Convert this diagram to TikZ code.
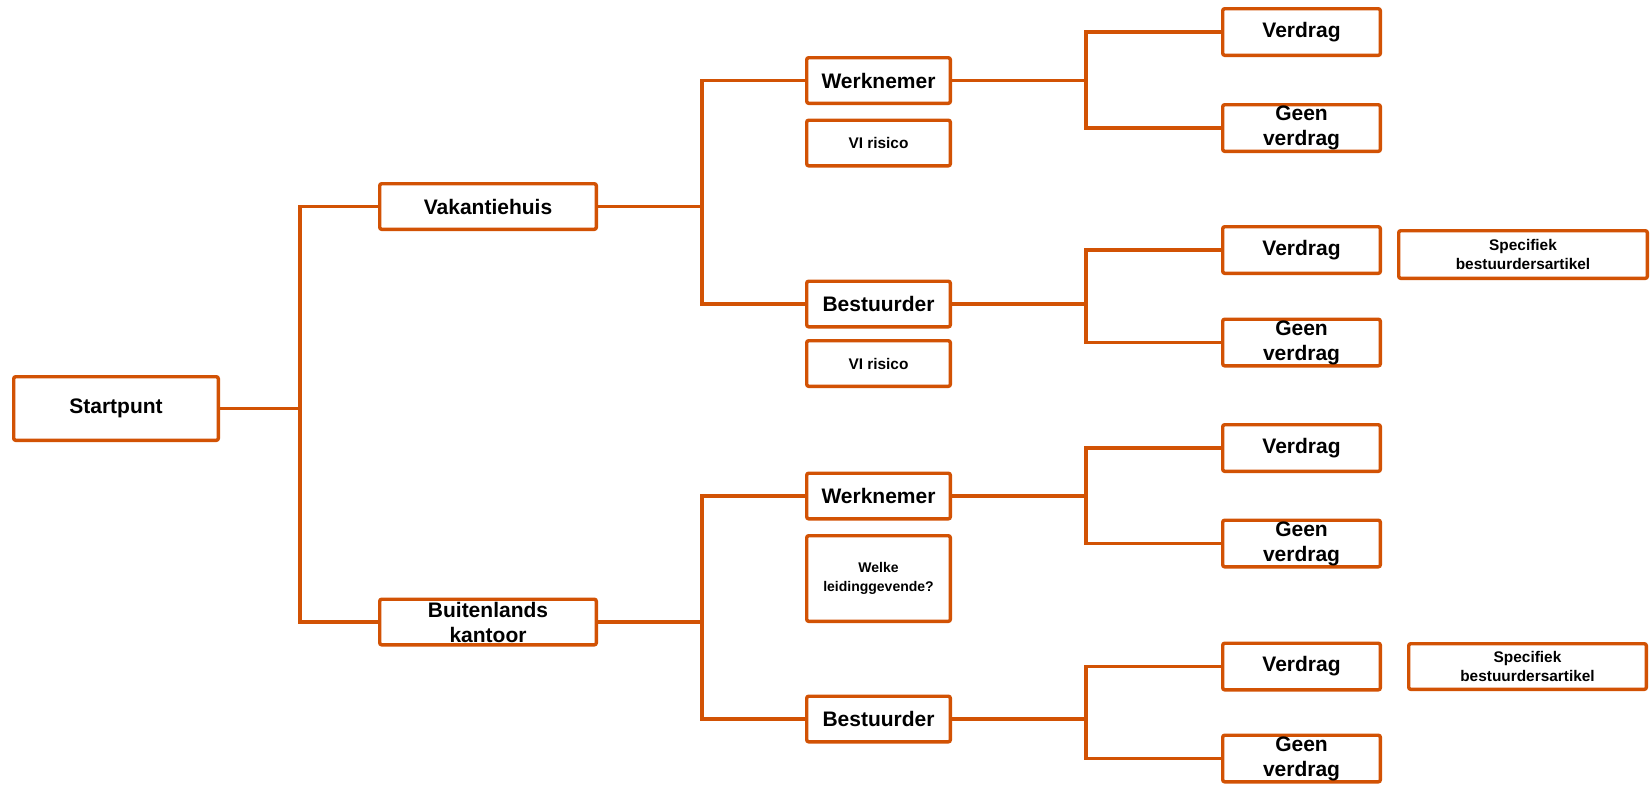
\documentclass[tikz,border=0pt]{standalone}
\usepackage{fontspec}
\setmainfont{Liberation Sans}
\definecolor{treeorange}{RGB}{210, 82, 4}
\usetikzlibrary{positioning, calc}

\begin{document}
\begin{tikzpicture}[
  x=0.5pt, y=-0.5pt,
  treebox/.style={draw=treeorange, line width=1.7pt, fill=white, rounded corners=1pt, inner sep=0pt, align=center, font=\bfseries\fontsize{10.5}{12.5}\selectfont, minimum width=71.8pt, minimum height=22.8pt},
  endbox/.style={treebox, minimum width=78.8pt, minimum height=23.3pt},
  notebox/.style={treebox, font=\bfseries\fontsize{7.7}{9.3}\selectfont},
  link/.style={draw=treeorange, line width=1.6pt}
]
  \useasboundingbox (0,0) rectangle (1652,784);

  % root and first split
  \node[treebox, minimum width=102.3pt, minimum height=31.8pt] (start) at (116,408.5) {Startpunt};
  \node[treebox, minimum width=108.3pt] (vakantie) at (488,206.5) {Vakantiehuis};
  \node[treebox, minimum width=108.3pt] (kantoor) at (488,622) {Buitenlands\\kantoor};

  % roles
  \node[treebox] (wn1) at (878.5,80.5) {Werknemer};
  \node[notebox] (vi1) at (878.5,143) {VI risico};
  \node[treebox] (bs1) at (878.5,304) {Bestuurder};
  \node[notebox] (vi2) at (878.5,363.5) {VI risico};
  \node[treebox] (wn2) at (878.5,496) {Werknemer};
  \node[notebox, minimum height=42.8pt, font=\bfseries\fontsize{7}{9.5}\selectfont] (welke) at (878.5,578.5) {Welke\\leidinggevende?};
  \node[treebox] (bs2) at (878.5,719) {Bestuurder};

  % outcomes
  \node[endbox] (v1) at (1301.5,32) {Verdrag};
  \node[endbox] (g1) at (1301.5,128) {Geen\\verdrag};
  \node[endbox] (v2) at (1301.5,250) {Verdrag};
  \node[endbox] (g2) at (1301.5,342.5) {Geen\\verdrag};
  \node[endbox] (v3) at (1301.5,448) {Verdrag};
  \node[endbox] (g3) at (1301.5,543.5) {Geen\\verdrag};
  \node[endbox] (v4) at (1301.5,666.5) {Verdrag};
  \node[endbox] (g4) at (1301.5,758.5) {Geen\\verdrag};
  \node[notebox, minimum width=124.3pt, minimum height=23.8pt] (spec1) at (1523,254.5) {Specifiek\\bestuurdersartikel};
  \node[notebox, minimum width=118.8pt] (spec2) at (1527.5,666.5) {Specifiek\\bestuurdersartikel};

  % junctions
  \coordinate (j0) at (300,408.5);
  \coordinate (j1) at (702,206.5);
  \coordinate (j2) at (702,622);
  \coordinate (j3) at (1086,80.5);
  \coordinate (j4) at (1086,304);
  \coordinate (j5) at (1086,496);
  \coordinate (j6) at (1086,719);

  \draw[link] (start.east) -- (j0);
  \draw[link] (j0) |- (vakantie.west);
  \draw[link] (j0) |- (kantoor.west);

  \draw[link] (vakantie.east) -- (j1);
  \draw[link] (j1) |- (wn1.west);
  \draw[link] (j1) |- (bs1.west);
  \draw[link] (kantoor.east) -- (j2);
  \draw[link] (j2) |- (wn2.west);
  \draw[link] (j2) |- (bs2.west);

  \draw[link] (wn1.east) -- (j3);
  \draw[link] (j3) |- (v1.west);
  \draw[link] (j3) |- (g1.west);
  \draw[link] (bs1.east) -- (j4);
  \draw[link] (j4) |- (v2.west);
  \draw[link] (j4) |- (g2.west);
  \draw[link] (wn2.east) -- (j5);
  \draw[link] (j5) |- (v3.west);
  \draw[link] (j5) |- (g3.west);
  \draw[link] (bs2.east) -- (j6);
  \draw[link] (j6) |- (v4.west);
  \draw[link] (j6) |- (g4.west);
\end{tikzpicture}
\end{document}
